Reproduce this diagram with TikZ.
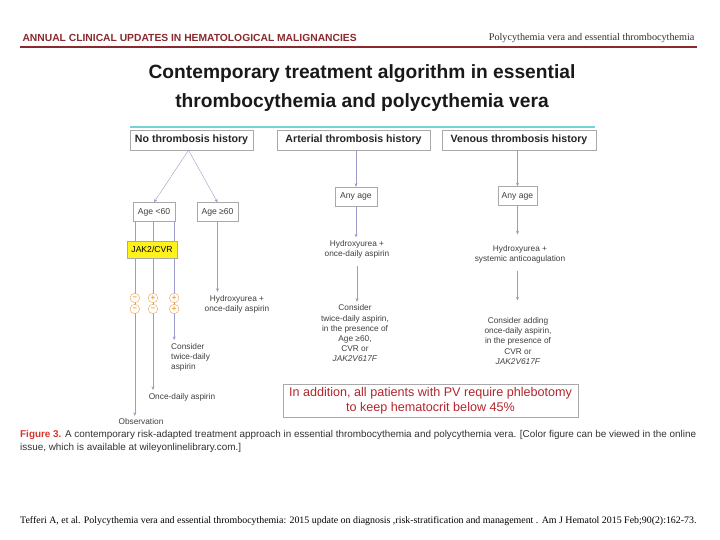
\documentclass[tikz,border=0pt]{standalone}
\usepackage{fontspec}
\setmainfont{Liberation Serif}
\setsansfont{Liberation Sans}
\usetikzlibrary{arrows.meta,positioning,calc}
\definecolor{headred}{HTML}{8B2A2E}
\definecolor{figred}{HTML}{D4372E}
\definecolor{tealline}{HTML}{74D2D8}
\definecolor{flowline}{HTML}{9C9CCB}
\definecolor{boxgray}{HTML}{A9A9A9}
\definecolor{signorange}{HTML}{F0A040}
\definecolor{jakyellow}{HTML}{FFF21A}
\definecolor{notered}{HTML}{B3262E}

\begin{document}
\begin{tikzpicture}[x=1pt, y=-1pt,
  every node/.style={font=\sffamily},
  hbox/.style={draw=boxgray, fill=white, minimum height=20pt, inner sep=0pt,
    font=\sffamily\bfseries\fontsize{10.6}{12}\selectfont, text=black!85},
  agebox/.style={draw=boxgray, fill=white, minimum height=19pt, inner sep=0pt,
    font=\sffamily\fontsize{8.6}{10}\selectfont, text=black!75},
  txt/.style={align=center, inner sep=3pt, font=\sffamily\fontsize{8.3}{10.2}\selectfont, text=black!75},
  flow/.style={draw=flowline, -{Stealth[length=3.5pt,width=3pt]}},
  sign/.style={circle, draw=signorange, fill=white, inner sep=0pt, minimum size=9.5pt,
    text=signorange, font=\sffamily\bfseries\fontsize{8}{8}\selectfont},
]
  \fill[white] (0,0) rectangle (720,540);
  \useasboundingbox (0,0) rectangle (720,540);

  % Journal header
  \node[anchor=west, text=headred, font=\sffamily\bfseries\fontsize{10.3}{11}\selectfont]
    (journal) at (19,38) {ANNUAL CLINICAL UPDATES IN HEMATOLOGICAL MALIGNANCIES};
  \node[anchor=east, text=black!80, font=\rmfamily\fontsize{10.2}{11}\selectfont]
    (running) at (698,38) {Polycythemia vera and essential thrombocythemia};
  \draw[headred, line width=2pt] (20,47) -- (697,47);

  % Title
  \node[align=center, font=\sffamily\bfseries\fontsize{19.2}{29}\selectfont, text=black!90]
    (title) at (362,88) {Contemporary treatment algorithm in essential\\thrombocythemia and polycythemia vera};
  \draw[tealline, line width=2pt] (130,127) -- (595,127);

  % History boxes
  \node[hbox, minimum width=123pt] (hdrno) at (191.5,140) {No thrombosis history};
  \node[hbox, minimum width=153pt] (hdrart) at (353.5,140) {Arterial thrombosis history};
  \node[hbox, minimum width=154pt] (hdrven) at (519,140) {Venous thrombosis history};

  % No thrombosis branch
  \node[agebox, minimum width=42pt] (ageyoung) at (154,212) {Age <60};
  \node[agebox, minimum width=41pt] (ageold) at (217.5,212) {Age ≥60};
  \draw[flow] ([xshift=-3pt]hdrno.south) -- (ageyoung.north);
  \draw[flow] ([xshift=-3pt]hdrno.south) -- (ageold.north);

  \coordinate (lneg) at ([xshift=2pt]ageyoung.south west);
  \coordinate (lmix) at ([xshift=-1pt]ageyoung.south);
  \coordinate (lpos) at ([xshift=-1pt]ageyoung.south east);

  \node[txt] (obs) at (141,422) {Observation};
  \node[txt] (oncea) at (182,397) {Once-daily aspirin};
  \node[txt, align=left, anchor=north west] (twicea) at (168,340) {Consider\\twice-daily\\aspirin};
  \draw[flow] (lneg) -- (lneg |- obs.north);
  \draw[flow] (lmix) -- (lmix |- oncea.north);
  \draw[flow] (lpos) -- (lpos |- twicea.north);

  \node[draw=boxgray, fill=jakyellow, minimum width=50pt, minimum height=17pt, inner sep=0pt,
    font=\sffamily\fontsize{8.6}{10}\selectfont] (jak) at (152,249.5) {JAK2/CVR};

  \foreach \col/\top/\bot in {lneg/--/--, lmix/+/--, lpos/+/+} {
    \node[sign] (\col a) at (\col |- 0,298) {\top};
    \node[sign] (\col b) at (\col |- 0,309) {\bot};
  }

  \node[txt] (huno) at (237,304) {Hydroxyurea +\\once-daily aspirin};
  \draw[flow] (ageold.south) -- (ageold.south |- huno.north);

  % Arterial branch
  \node[agebox, minimum width=42pt] (anyart) at (356,196.5) {Any age};
  \node[txt] (huart) at (357,249.5) {Hydroxyurea +\\once-daily aspirin};
  \node[txt] (consart) at (355,333.5) {Consider\\twice-daily aspirin,\\in the presence of\\Age ≥60,\\CVR or\\\textit{JAK2V617F}};
  \draw[flow] (anyart.north |- hdrart.south) -- (anyart.north);
  \draw[flow] (anyart.south) -- (anyart.south |- huart.north);
  \draw[flow] ([yshift=-4pt]huart.south) -- (huart.south |- consart.north);

  % Venous branch
  \node[agebox, minimum width=39pt] (anyven) at (517.5,196) {Any age};
  \node[txt] (huven) at (520,254.5) {Hydroxyurea +\\systemic anticoagulation};
  \node[txt] (consven) at (518,341) {Consider adding\\once-daily aspirin,\\in the presence of\\CVR or\\\textit{JAK2V617F}};
  \draw[flow] (anyven.north |- hdrven.south) -- (anyven.north);
  \draw[flow] (anyven.south) -- ([yshift=8pt]anyven.south |- huven.north);
  \draw[flow] ([yshift=-4pt]huven.south -| anyven) -- ([yshift=14pt]anyven |- consven.north);

  % Phlebotomy note
  \node[draw=boxgray, minimum width=295pt, minimum height=33pt, align=center, inner sep=0pt,
    text=notered, font=\sffamily\fontsize{12.6}{15}\selectfont]
    (phleb) at (430.5,400.5) {In addition, all patients with PV require phlebotomy\\to keep hematocrit below 45\%};

  % Caption and reference
  \node[anchor=north west, align=left, inner sep=0pt, text=black!80,
    font=\sffamily\fontsize{9.9}{13}\selectfont] (caption) at (20,430)
    {\textcolor{figred}{\textbf{Figure 3.}} A contemporary risk-adapted treatment approach in essential thrombocythemia and polycythemia vera. [Color figure can be viewed in the online\\issue, which is available at wileyonlinelibrary.com.]};
  \node[anchor=west, inner sep=0pt, font=\rmfamily\fontsize{9.9}{11}\selectfont] (citation) at (20,521)
    {Tefferi A, et al. Polycythemia vera and essential thrombocythemia: 2015 update on diagnosis ,risk-stratification and management . Am J Hematol 2015 Feb;90(2):162-73.};
\end{tikzpicture}
\end{document}
